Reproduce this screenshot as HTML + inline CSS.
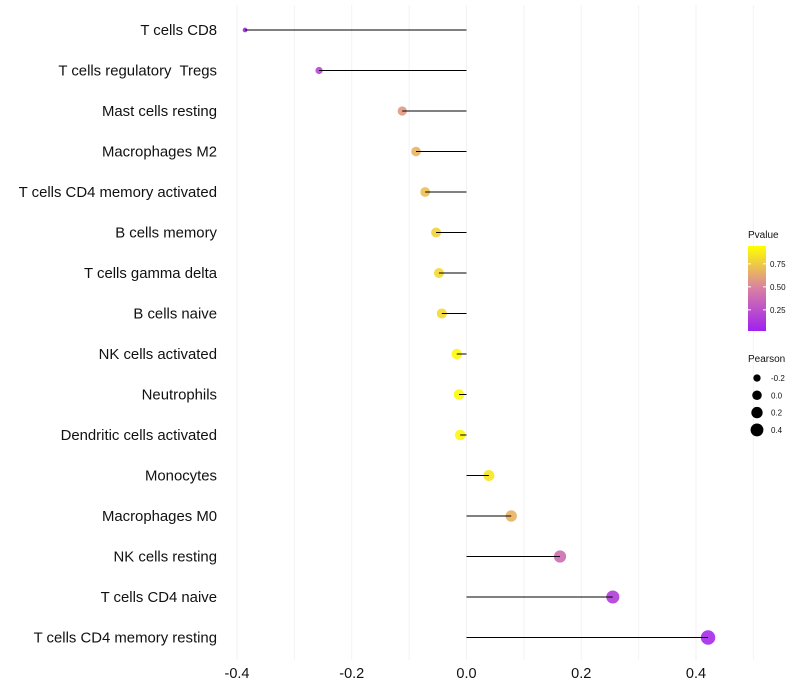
<!DOCTYPE html>
<html><head><meta charset="utf-8"><style>
body{margin:0;background:#fff;}
svg{display:block;font-family:"Liberation Sans",sans-serif;}
text{white-space:pre;}
</style></head><body>
<svg id="chart" width="800" height="700">
<defs><linearGradient id="pg" x1="0" y1="1" x2="0" y2="0">
<stop offset="0" stop-color="#a020f0"/><stop offset="0.5" stop-color="#d880a4"/><stop offset="1" stop-color="#ffff00"/>
</linearGradient></defs>
<g id="grid"></g><g id="marks"></g><g id="labels"></g><g id="legend"></g>
</svg>
<script>
const categories=["T cells CD8","T cells regulatory  Tregs","Mast cells resting","Macrophages M2","T cells CD4 memory activated","B cells memory","T cells gamma delta","B cells naive","NK cells activated","Neutrophils","Dendritic cells activated","Monocytes","Macrophages M0","NK cells resting","T cells CD4 naive","T cells CD4 memory resting"];
const pearson=[-0.386,-0.257,-0.112,-0.088,-0.072,-0.053,-0.048,-0.043,-0.017,-0.013,-0.011,0.039,0.078,0.163,0.255,0.421];
const pvalue=[0.03,0.2,0.6,0.7,0.75,0.82,0.85,0.85,0.98,0.98,0.97,0.9,0.7,0.4,0.15,0.05];
const xTicks=[-0.4,-0.2,0.0,0.2,0.4];
const xTickLabels=["-0.4","-0.2","0.0","0.2","0.4"];
const gridVals=[-0.4,-0.3,-0.2,-0.1,0,0.1,0.2,0.3,0.4,0.5];
const legendP=[0.25,0.5,0.75];
const legendS=[-0.2,0.0,0.2,0.4];
const NS="http://www.w3.org/2000/svg";
const xs=v=>466.5+v*573.75;
const ys=i=>30+i*40.5;
const rs=v=>Math.sqrt(Math.max(3,28+58*v));
function mix(a,b,t){return a.map((c,i)=>Math.round(c+(b[i]-c)*t));}
function col(p){const P=[160,32,240],M=[216,128,164],Y=[255,255,0];
 const c=p<0.5?mix(P,M,p/0.5):mix(M,Y,(p-0.5)/0.5);return `rgb(${c})`;}
function el(t,a,parent,txt){const e=document.createElementNS(NS,t);for(const k in a)e.setAttribute(k,a[k]);if(txt!==undefined)e.textContent=txt;document.getElementById(parent).appendChild(e);return e;}
gridVals.forEach(v=>{const e=el('line',{x1:xs(v),x2:xs(v),y1:5,y2:660,stroke:'#f2f2f2','stroke-width':1},'grid');

});
categories.forEach((c,i)=>{
 const y=ys(i);
 const p=el('circle',{cx:xs(pearson[i]),cy:y,r:rs(pearson[i]),fill:col(pvalue[i]),'fill-opacity':0.9},'marks');
 
 
 const s=el('line',{x1:xs(0),x2:xs(pearson[i]),y1:y,y2:y,stroke:'#000','stroke-width':1},'marks');
 
 
 const t=el('text',{x:217,y:y+5,'text-anchor':'end','font-size':14.9,fill:'#111'},'labels',c);
 
 
});
xTicks.forEach((v,i)=>{const t=el('text',{x:xs(v),y:678,'text-anchor':'middle','font-size':14.5,fill:'#111'},'labels',xTickLabels[i]);

});
let t=el('text',{x:748,y:238,'font-size':10,fill:'#111'},'legend','Pvalue');


const bar=el('rect',{x:748,y:246,width:18,height:85,fill:'url(#pg)'},'legend');


const py=p=>331-(p-0.02)*92;
legendP.forEach(p=>{el('line',{x1:748,x2:751,y1:py(p),y2:py(p),stroke:'#fff'},'legend');el('line',{x1:763,x2:766,y1:py(p),y2:py(p),stroke:'#fff'},'legend');
const l=el('text',{x:770,y:py(p)+3,'font-size':8,fill:'#111'},'legend',p.toFixed(2));

});
t=el('text',{x:748,y:362,'font-size':10,fill:'#111'},'legend','Pearson');


legendS.forEach((v,i)=>{const y=378+i*17.3;
const c=el('circle',{cx:757,cy:y,r:rs(v)*0.9,fill:'#000'},'legend');


const l=el('text',{x:771,y:y+3,'font-size':8,fill:'#111'},'legend',v.toFixed(1));

});
</script>
</body></html>
